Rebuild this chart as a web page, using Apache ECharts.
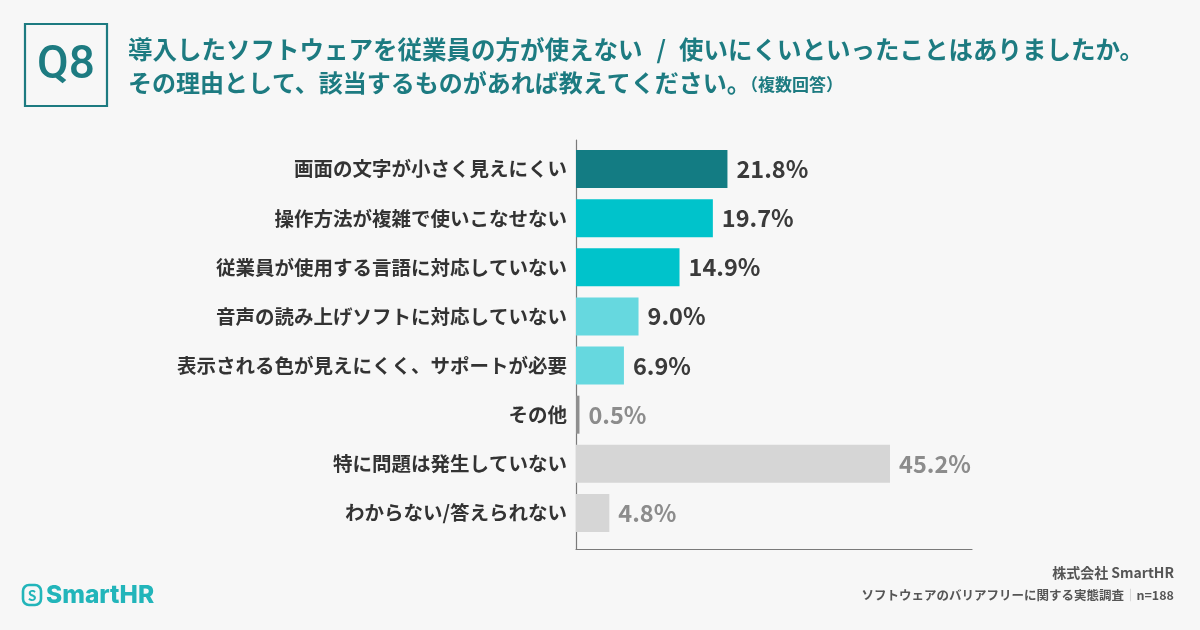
<!DOCTYPE html>
<html>
<head>
<meta charset="utf-8">
<script src="https://cdn.jsdelivr.net/npm/echarts@6/dist/echarts.min.js"></script>
<style>
html,body{margin:0;padding:0;background:#f7f7f7;}
#c{width:1200px;height:630px;}
</style>
</head>
<body>
<div id="c"></div>
<script>
// ---- data ----
const categories = [
  '画面の文字が小さく見えにくい',
  '操作方法が複雑で使いこなせない',
  '従業員が使用する言語に対応していない',
  '音声の読み上げソフトに対応していない',
  '表示される色が見えにくく、サポートが必要',
  'その他',
  '特に問題は発生していない',
  'わからない/答えられない'
];
const values = [21.8, 19.7, 14.9, 9.0, 6.9, 0.5, 45.2, 4.8];
const titleLine1a = '導入したソフトウェアを従業員の方が使えない';
const titleLine1b = '使いにくいといったことはありましたか。';
const titleLine2 = 'その理由として、該当するものがあれば教えてください。';
const titleNote = '（複数回答）';
const footer1 = '株式会社 SmartHR';
const footer2 = 'ソフトウェアのバリアフリーに関する実態調査';
const sampleSize = 'n=188';

// ---- styles ----
const barColors = ['#137c83', '#00c3cb', '#00c3cb', '#66d8df', '#66d8df', '#8f8f8f', '#d6d6d6', '#d6d6d6'];
const labelColors = ['#3a3a3a', '#3a3a3a', '#3a3a3a', '#3a3a3a', '#3a3a3a', '#8c8c8c', '#8c8c8c', '#8c8c8c'];
const teal = '#1d7b81';
const FONT = '"Noto Sans CJK JP", "Noto Sans", sans-serif';

const chart = echarts.init(document.getElementById('c'), null, {renderer: 'canvas'});

const seriesData = values.map((v, i) => ({
  value: v,
  itemStyle: {color: barColors[i]},
  label: {color: labelColors[i]}
}));

chart.setOption({
  backgroundColor: '#f7f7f7',
  animation: false,
  grid: [
    {left: 576, right: 228, top: 144.5, bottom: 92.5},
    {left: 576, right: 228, top: 140, bottom: 81}
  ],
  xAxis: [
    {type: 'value', gridIndex: 0, min: 0, max: 57, show: false},
    {type: 'value', gridIndex: 1, min: 0, max: 1,
     axisLine: {show: true, lineStyle: {color: '#7a7a7a', width: 1.2}},
     axisTick: {show: false}, axisLabel: {show: false}, splitLine: {show: false}}
  ],
  yAxis: [
    {type: 'category', gridIndex: 0, data: categories, inverse: true,
     axisLine: {show: false}, axisTick: {show: false},
     axisLabel: {fontFamily: FONT, fontSize: 19.5, fontWeight: 'bold', color: '#333', margin: 9}},
    {type: 'value', gridIndex: 1, min: 0, max: 1,
     axisLine: {show: true, lineStyle: {color: '#7a7a7a', width: 1.2}},
     axisTick: {show: false}, axisLabel: {show: false}, splitLine: {show: false}}
  ],
  series: [{
    type: 'bar',
    xAxisIndex: 0, yAxisIndex: 0,
    data: seriesData,
    barWidth: 38,
    label: {
      show: true, position: 'right', distance: 9,
      fontFamily: FONT, fontSize: 23.5, fontWeight: 'bold',
      formatter: p => p.value.toFixed(1) + '%'
    }
  }],
  graphic: [
    {type: 'rect', shape: {x: 25, y: 24, width: 82, height: 82},
     style: {fill: 'none', stroke: teal, lineWidth: 2.2}},
    {type: 'text', x: 66, y: 66,
     style: {text: 'Q8', fill: teal, font: '500 46px Roboto, "Noto Sans", sans-serif',
             textAlign: 'center', textVerticalAlign: 'middle'}},
    {type: 'text', x: 128, y: 50,
     style: {text: '{a|' + titleLine1a + '}{s|/}{a|' + titleLine1b + '}',
             textVerticalAlign: 'middle',
             rich: {a: {fill: teal, font: 'bold 24.5px ' + FONT},
                    s: {fill: teal, font: 'bold 24.5px ' + FONT, padding: [0, 13, 0, 14]}}}},
    {type: 'text', x: 128, y: 83,
     style: {text: titleLine2, fill: teal, font: 'bold 24px ' + FONT, textVerticalAlign: 'middle'}},
    {type: 'text', x: 741, y: 85,
     style: {text: titleNote, fill: teal, font: 'bold 17px ' + FONT, textVerticalAlign: 'middle'}},
    {type: 'text', x: 1174, y: 573,
     style: {text: footer1, fill: '#555', font: 'bold 14px ' + FONT, textAlign: 'right', textVerticalAlign: 'middle'}},
    {type: 'text', x: 1174, y: 595,
     style: {text: '{a|' + footer2 + '}{s|｜}{a|' + sampleSize + '}',
             textAlign: 'right', textVerticalAlign: 'middle',
             rich: {a: {fill: '#555', font: 'bold 12.5px ' + FONT},
                    s: {fill: '#bbb', font: '12.5px ' + FONT}}}},
    {type: 'rect', shape: {x: 23, y: 585, width: 18, height: 20, r: 6},
     style: {fill: 'none', stroke: '#22b5ba', lineWidth: 2.6}},
    {type: 'text', x: 32, y: 595.5,
     style: {text: 'S', fill: '#22b5ba', font: 'bold 14px ' + FONT, textAlign: 'center', textVerticalAlign: 'middle'}},
    {type: 'text', x: 46, y: 596,
     style: {text: 'SmartHR', fill: '#22b5ba', font: '800 24.5px Inter, "Noto Sans", sans-serif', textVerticalAlign: 'middle'}}
  ]
});
</script>
</body>
</html>
